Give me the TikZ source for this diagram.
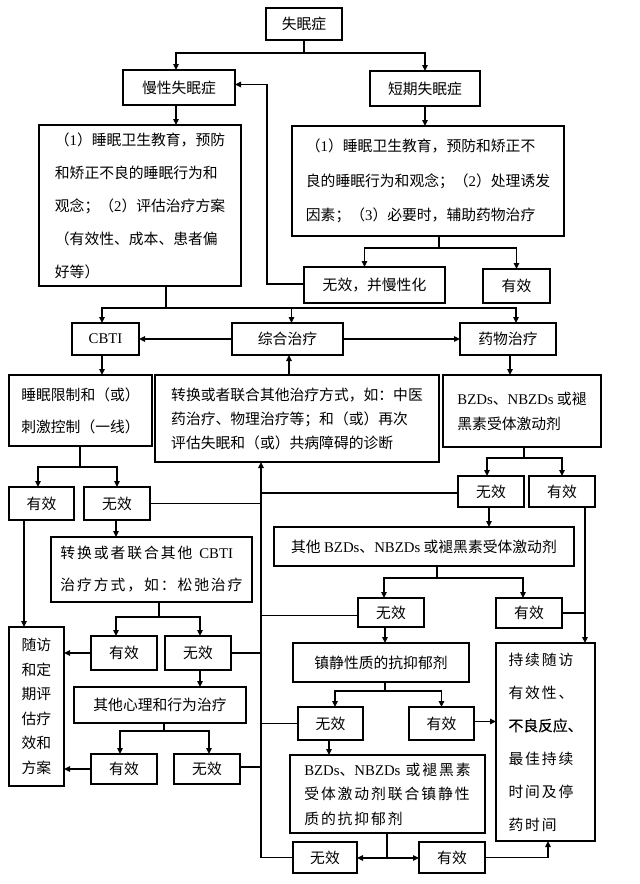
\documentclass[tikz,border=0pt]{standalone}
\usepackage{fontspec}
\setmainfont{Liberation Serif}
\newfontfamily\cjk{Noto Sans CJK SC}
\newfontfamily\cjkdark[FakeBold=0.6]{Noto Sans CJK SC}
\newfontfamily\cjksp[LetterSpace=13]{Noto Sans CJK SC}
\newcommand\latn[1]{{\rmfamily #1}}
\usetikzlibrary{arrows.meta}
\begin{document}
\begin{tikzpicture}[x=1pt,y=-1pt,
  box/.style={draw, line width=1.4pt, inner sep=0pt, outer sep=0pt, align=center,
    font=\cjk\fontsize{14.8}{18}\selectfont},
  sz/.style 2 args={minimum width=#1pt, minimum height=#2pt},
  ln/.style={line width=1.3pt},
  arr/.style={line width=1.3pt, -{Triangle[length=6pt,width=5.5pt]}}]
\fill[white] (0,0) rectangle (640,884);
\useasboundingbox (0,0) rectangle (640,884);

% nodes
\node[box, sz={76}{32}] (top) at (304,24) {失眠症};
\node[box, sz={112}{35}] (chronic) at (179,87.5) {慢性失眠症};
\node[box, sz={110}{35}] (short) at (425,88.5) {短期失眠症};
\node[box, sz={202}{161}, align=left, font=\cjk\fontsize{14.8}{33}\selectfont] (cbox) at (140,205.5)
  {（\latn{1}）睡眠卫生教育，预防\\和矫正不良的睡眠行为和\\观念；（\latn{2}）评估治疗方案\\（有效性、成本、患者偏\\好等）};
\node[box, sz={272}{110}, align=left, font=\cjk\fontsize{14.8}{34.5}\selectfont] (sbox) at (428,181)
  {（\latn{1}）睡眠卫生教育，预防和矫正不\\良的睡眠行为和观念；（\latn{2}）处理诱发\\因素；（\latn{3}）必要时，辅助药物治疗};
\node[box, sz={141}{36}] (inef1) at (374.5,285) {无效，并慢性化};
\node[box, sz={67}{34}] (eff1) at (516.5,286) {有效};

\node[box, sz={67}{32}] (cbti) at (105.5,339) {\latn{CBTI}};
\node[box, sz={111}{32}] (zh) at (287.5,339) {综合治疗};
\node[box, sz={96}{32}] (yw) at (508,339) {药物治疗};

\node[box, sz={143}{71}, align=left, font=\cjk\fontsize{14.8}{32}\selectfont] (sm) at (80.5,410.5)
  {睡眠限制和（或）\\刺激控制（一线）};
\node[box, sz={284}{87}, align=left, font=\cjk\fontsize{14.8}{24}\selectfont] (zb) at (297,418.5)
  {转换或者联合其他治疗方式，如：中医\\药治疗、物理治疗等；和（或）再次\\评估失眠和（或）共病障碍的诊断};
\node[box, sz={158}{72}, align=left, font=\cjk\fontsize{14.8}{25}\selectfont] (bz) at (522,411)
  {\latn{BZDs}、\latn{NBZDs} 或褪\\黑素受体激动剂};

\node[box, sz={65}{33}] (e2) at (41.5,503.5) {有效};
\node[box, sz={66}{33}] (i2) at (117,503.5) {无效};
\node[box, sz={66}{31}] (i3) at (491,491.5) {无效};
\node[box, sz={66}{31}] (e3) at (562,491.5) {有效};

\node[box, sz={300}{39}] (ob) at (424,546.5) {其他 \latn{BZDs}、\latn{NBZDs} 或褪黑素受体激动剂};
\node[box, sz={66}{29}] (i4) at (391,612.5) {无效};
\node[box, sz={66}{30}] (e4) at (529,613) {有效};

\node[box, sz={201}{65}, align=left, font=\cjksp\fontsize{14.8}{32}\selectfont] (tc) at (151.5,569.5)
  {转换或者联合其他\hspace{7pt}\latn{CBTI}\\治疗方式，如：松弛治疗};
\node[box, sz={66}{34}] (e5) at (124,653) {有效};
\node[box, sz={66}{34}] (i5) at (198,653) {无效};
\node[box, sz={172}{36}] (xl) at (160,705) {其他心理和行为治疗};
\node[box, sz={66}{30}] (e6) at (124,769) {有效};
\node[box, sz={66}{30}] (i6) at (207,769) {无效};

\node[box, sz={55}{159}, font=\cjk\fontsize{14.8}{24.5}\selectfont] (fu) at (36.5,706.5)
  {随访\\和定\\期评\\估疗\\效和\\方案};

\node[box, sz={99}{198}, align=left, font=\cjksp\fontsize{14.8}{33}\selectfont] (cx) at (545.5,742)
  {持续随访\\有效性、\\{\cjkdark 不良反应、}\\最佳持续\\时间及停\\药时间};

\node[box, sz={176}{39}] (zy) at (381,662.5) {镇静性质的抗抑郁剂};
\node[box, sz={65}{33}] (i7) at (330.5,723.5) {无效};
\node[box, sz={65}{33}] (e7) at (441.5,723.5) {有效};
\node[box, sz={195}{78}, align=left, font=\cjksp\fontsize{14.8}{24.5}\selectfont] (lh) at (387.5,794)
  {\latn{BZDs}、\latn{NBZDs} 或褪黑素\\受体激动剂联合镇静性\\质的抗抑郁剂};
\node[box, sz={64}{31}] (i8) at (325,857.5) {无效};
\node[box, sz={66}{31}] (e8) at (452,857.5) {有效};

% helper coordinates
\coordinate (j1) at (304,53);
\coordinate (j2) at (439,248);
\coordinate (j3) at (166,308);
\coordinate (j4) at (80,467);
\coordinate (j5) at (524,458);
\coordinate (j6) at (437,578);
\coordinate (j7) at (385,691);
\coordinate (j8) at (387,858);
\coordinate (j9) at (159,617);
\coordinate (j10) at (164,731);
\coordinate (sp) at (261,0);
\coordinate (sx) at (585,0);
\coordinate (sx2) at (548,0);

% connectors
\draw[ln] (top.south) -- (j1);
\draw[arr] (j1) -| ([xshift=-3pt]chronic.north);
\draw[arr] (j1) -| (short.north);
\draw[arr] ([xshift=-3pt]chronic.south) -- ([xshift=-3pt]chronic.south |- cbox.north);
\draw[arr] (short.south) -- (short.south |- sbox.north);

\draw[ln] (j2 |- sbox.south) -- (j2);
\draw[arr] (j2) -| ([xshift=-10pt]inef1.north);
\draw[arr] (j2) -| (eff1.north);
\draw[arr] ([yshift=1pt]inef1.west) -- ++(-37,0) |- ([yshift=3pt]chronic.east);

\draw[ln] (j3 |- cbox.south) -- (j3);
\draw[arr] (j3) -| ([xshift=-3.5pt]cbti.north);
\draw[arr] (j3) -| ([xshift=4pt]zh.north);
\draw[arr] (j3) -| ([xshift=8pt]yw.north);
\draw[arr] (zh.west) -- (cbti.east);
\draw[arr] (zh.east) -- (yw.west);
\draw[arr] ([xshift=-3.5pt]cbti.south) -- ([xshift=-3.5pt]cbti.south |- sm.north);
\draw[arr] ([xshift=-8pt]zb.north) -- ([xshift=-8pt]zb.north |- zh.south);
\draw[arr] ([xshift=2pt]yw.south) -- ([xshift=2pt]yw.south |- bz.north);

\draw[ln] (j4 |- sm.south) -- (j4);
\draw[arr] (j4) -| ([xshift=-3.5pt]e2.north);
\draw[arr] (j4) -| (i2.north);
\draw[ln] (j5 |- bz.south) -- (j5);
\draw[arr] (j5) -| ([xshift=-4pt]i3.north);
\draw[arr] (j5) -| (e3.north);

% spine
\draw[arr] (i8.west) -| (zb.south -| sp);
\draw[ln] (i2.east) -- (i2.east -| sp);
\draw[ln] ([yshift=-1.5pt]i3.west) -- ([yshift=-1.5pt]i3.west -| sp);
\draw[ln] ([yshift=-3pt]i4.west) -- ([yshift=-3pt]i4.west -| sp);
\draw[ln] (i5.east) -- (i5.east -| sp);
\draw[ln] ([yshift=2pt]i6.east) -- ([yshift=2pt]i6.east -| sp);
\draw[ln] (i7.west) -- (i7.west -| sp);

\draw[arr] ([xshift=-2pt]i3.south) -- ([xshift=-2pt]i3.south |- ob.north);
\draw[ln] (j6 |- ob.south) -- (j6);
\draw[arr] (j6) -| ([xshift=-7pt]i4.north);
\draw[arr] (j6) -| ([xshift=-6pt]e4.north);
\draw[arr] (e3.south -| sx) -- (cx.north -| sx);
\draw[ln] (e4.east) -- (e4.east -| sx);

\draw[arr] ([xshift=-6pt]i4.south) -- ([xshift=-6pt]i4.south |- zy.north);
\draw[ln] (j7 |- zy.south) -- (j7);
\draw[arr] (j7) -| ([xshift=4.5pt]i7.north);
\draw[arr] (j7) -| (e7.north);
\draw[arr] ([yshift=2pt]e7.east) -- ([yshift=2pt]e7.east -| cx.west);
\draw[arr] ([xshift=-1.5pt]i7.south) -- ([xshift=-1.5pt]i7.south |- lh.north);
\draw[ln] (j8 |- lh.south) -- (j8);
\draw[arr] (j8) -- (j8 -| i8.east);
\draw[arr] (j8) -- (j8 -| e8.west);
\draw[arr] (e8.east) -| (cx.south -| sx2);

\draw[arr] ([xshift=-1pt]i2.south) -- ([xshift=-1pt]i2.south |- tc.north);
\draw[ln] (j9 |- tc.south) -- (j9);
\draw[arr] (j9) -| ([xshift=-8pt]e5.north);
\draw[arr] (j9) -| ([xshift=2pt]i5.north);
\draw[arr] (e5.west) -- (e5.west -| fu.east);
\draw[arr] ([xshift=2pt]i5.south) -- ([xshift=2pt]i5.south |- xl.north);
\draw[ln] (j10 |- xl.south) -- (j10);
\draw[arr] (j10) -| ([xshift=-4pt]e6.north);
\draw[arr] (j10) -| ([xshift=2pt]i6.north);
\draw[arr] (e6.west) -- (e6.west -| fu.east);
\draw[arr] ([xshift=-17.5pt]e2.south) -- ([xshift=-17.5pt]e2.south |- fu.north);
\end{tikzpicture}
\end{document}
